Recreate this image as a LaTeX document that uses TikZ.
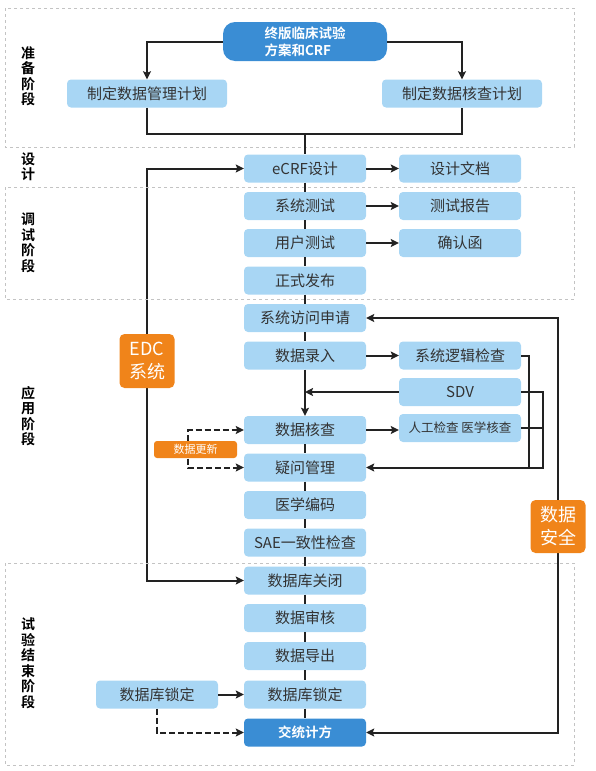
\documentclass[tikz,border=0pt]{standalone}
\usepackage{fontspec}
\setmainfont{Noto Sans CJK SC}[BoldFont={Noto Sans CJK SC Bold}]
\usetikzlibrary{positioning,calc,arrows.meta,backgrounds}

\definecolor{boxblue}{RGB}{168,214,244}
\definecolor{keyblue}{RGB}{58,141,212}
\definecolor{edcorange}{RGB}{240,132,26}
\definecolor{textgray}{RGB}{51,51,51}
\definecolor{framegray}{RGB}{195,195,195}
\definecolor{linegray}{RGB}{34,34,34}

\tikzset{
	proc/.style={fill=boxblue, rounded corners=4pt, minimum width=122pt, minimum height=28pt,
		inner sep=0pt, text=textgray, font=\fontsize{15}{17}\selectfont},
	keyproc/.style={proc, fill=keyblue, text=white, font=\fontsize{13.5}{17}\selectfont\bfseries},
	sidebox/.style={fill=edcorange, rounded corners=5pt, minimum width=55pt, minimum height=53pt,
		inner sep=0pt, text=white, align=center, font=\fontsize{18}{23}\selectfont},
	phase/.style={align=center, inner sep=0pt, font=\fontsize{14}{15.5}\selectfont\bfseries},
	frame/.style={draw=framegray, dashed, line width=0.8pt},
	conn/.style={draw=linegray, line width=2pt},
	dashconn/.style={conn, dash pattern=on 6pt off 3pt}
}

\begin{document}
\begin{tikzpicture}[x=1pt, y=-1pt, >={Stealth[length=8pt, width=8pt, inset=1.5pt]}]
	\useasboundingbox (0,0) rectangle (596,771);

	% stage frames
	\draw[frame] (5,8)   rectangle (574,147);
	\draw[frame] (5,187) rectangle (574,299);
	\draw[frame] (5,563) rectangle (574,765);

	\node[phase] (pprep)  at (28,76)    {准\\备\\阶\\段};
	\node[phase] (pdes)   at (28,167)   {设\\计};
	\node[phase] (ptest)  at (28,243)   {调\\试\\阶\\段};
	\node[phase] (papp)   at (28,416)   {应\\用\\阶\\段};
	\node[phase] (pend)   at (28,663.5) {试\\验\\结\\束\\阶\\段};

	% preparation
	\node[keyproc, minimum width=164pt, minimum height=39pt, rounded corners=12pt, align=left]
		(final) at (305,41.5) {终版临床试验\\方案和CRF};
	\node[proc, minimum width=160pt] (dmp) at (147,93.5) {制定数据管理计划};
	\node[proc, minimum width=160pt] (dvp) at (462,93.5) {制定数据核查计划};
	\coordinate (merge) at (305,134);

	% main column
	\node[proc] (ecrf)     at (305,168.5) {eCRF设计};
	\node[proc] (systest)  at (305,206)   {系统测试};
	\node[proc] (usertest) at (305,243)   {用户测试};
	\node[proc] (release)  at (305,280.5) {正式发布};
	\node[proc] (access)   at (305,318)   {系统访问申请};
	\node[proc] (entry)    at (305,355.5) {数据录入};
	\node[proc] (check)    at (305,430)   {数据核查};
	\node[proc] (query)    at (305,467.5) {疑问管理};
	\node[proc] (coding)   at (305,505)   {医学编码};
	\node[proc] (sae)      at (305,542.5) {SAE一致性检查};
	\node[proc] (dbclose)  at (305,580.5) {数据库关闭};
	\node[proc] (review)   at (305,618)   {数据审核};
	\node[proc] (export)   at (305,656)   {数据导出};
	\node[proc] (lock)     at (305,694.5) {数据库锁定};
	\node[keyproc] (stat)  at (305,732.5) {交统计方};

	% side column
	\node[proc] (doc)     at (460,168.5) {设计文档};
	\node[proc] (report)  at (460,206)   {测试报告};
	\node[proc] (confirm) at (460,243)   {确认函};
	\node[proc] (logic)   at (460,355.5) {系统逻辑检查};
	\node[proc] (sdv)     at (460,392)   {SDV};
	\node[proc, font=\fontsize{12.5}{15}\selectfont] (manual) at (460,428) {人工检查 医学核查};
	\node[proc] (lockin)  at (157,694.5) {数据库锁定};

	% orange tags
	\node[sidebox, minimum height=54pt] (edc) at (147,361) {EDC\\系统};
	\node[sidebox] (safe) at (558,526.5) {数据\\安全};
	\node[sidebox, minimum width=83pt, minimum height=17pt, rounded corners=3pt,
		font=\fontsize{11}{13}\selectfont] (upd) at (195.5,449.5) {数据更新};
	\coordinate (updx)   at (188,449.5);
	\coordinate (logicx) at (529,467.5);
	\coordinate (sdvx)   at (543,467.5);

	\begin{scope}[on background layer]
		\draw[conn, <->] (ecrf.west) -| (edc.center) |- (dbclose.west);
		\draw[conn, <->] (access.east) -| (safe.center) |- (stat.east);
		\draw[dashconn, ->] (updx) |- (check.west);
		\draw[dashconn, ->] (updx) |- (query.west);
	\end{scope}

	\draw[conn, ->] (final.west) -| (dmp.north);
	\draw[conn, ->] (final.east) -| (dvp.north);
	\draw[conn] (dmp.south) |- (merge) -| (dvp.south);
	\draw[conn] (merge) -- (ecrf.north);

	\foreach \a/\b in {ecrf/systest, systest/usertest, usertest/release, release/access,
		access/entry, check/query, query/coding, coding/sae, sae/dbclose,
		dbclose/review, review/export, export/lock, lock/stat}
		\draw[conn] (\a) -- (\b);
	\draw[conn, ->] (entry) -- (check);

	\draw[conn, ->] (ecrf) -- (doc);
	\draw[conn, ->] (systest) -- (report);
	\draw[conn, ->] (usertest) -- (confirm);
	\draw[conn, ->] (entry) -- (logic);
	\draw[conn, ->] (check.east) -- (check.east -| manual.west);
	\draw[conn, ->] (sdv.west) -- (sdv.west -| entry.south);

	\draw[conn] (logic.east) -| (logicx);
	\draw[conn] (manual.east) -| (sdvx);
	\draw[conn, ->] (sdv.east) -| (sdvx) -- (query.east);

	\draw[conn, ->] (lockin) -- (lock);
	\draw[dashconn, ->] (lockin.south) |- (stat.west);
\end{tikzpicture}
\end{document}
